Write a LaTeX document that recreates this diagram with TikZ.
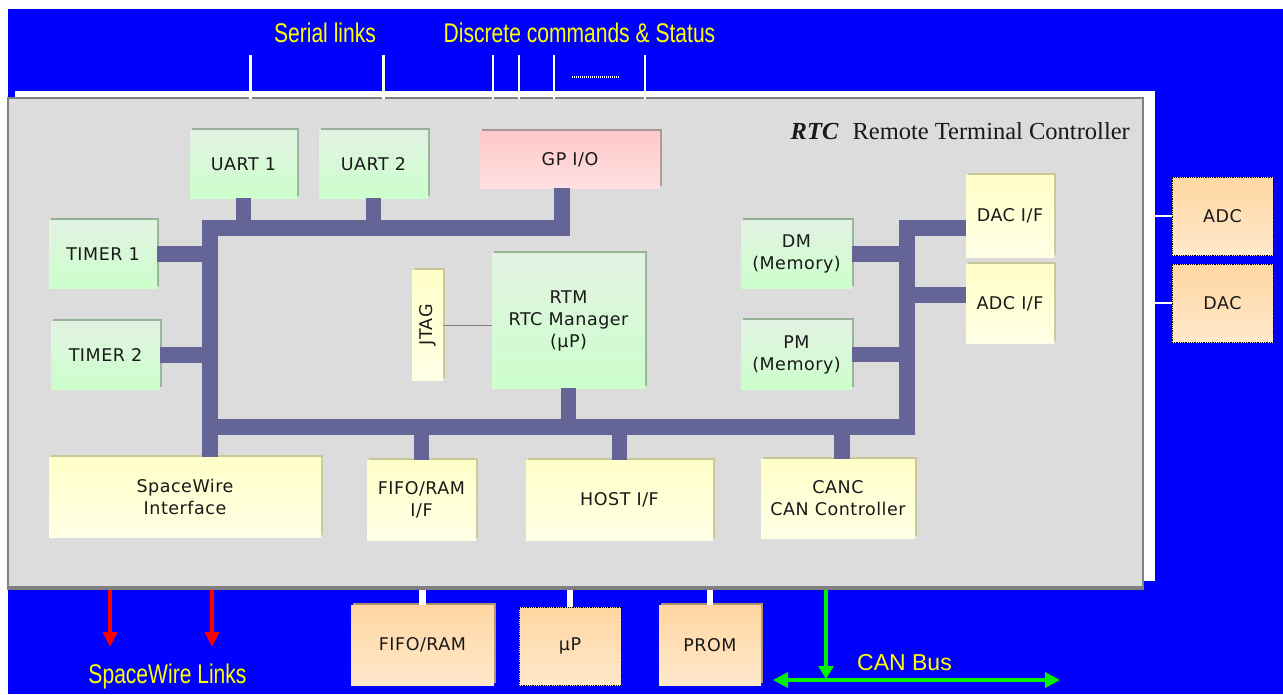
\documentclass[tikz,border=0pt]{standalone}
\usepackage{fontspec}
\setmainfont{Liberation Serif}
\newfontfamily\boxfont[LetterSpace=3]{DejaVu Sans}
\newfontfamily\capfont[FakeStretch=0.78]{Liberation Sans}
\newfontfamily\plainsans{Liberation Sans}
\usetikzlibrary{shadows,arrows.meta}

\definecolor{sky}{RGB}{0,0,255}
\definecolor{panel}{RGB}{220,220,220}
\definecolor{panelrim}{RGB}{128,128,128}
\definecolor{busc}{RGB}{100,100,150}
\definecolor{gtop}{RGB}{226,242,226}
\definecolor{gbot}{RGB}{204,255,204}
\definecolor{ytop}{RGB}{255,255,200}
\definecolor{ybot}{RGB}{255,255,230}
\definecolor{ptop}{RGB}{255,200,200}
\definecolor{pbot}{RGB}{255,224,224}
\definecolor{otop}{RGB}{255,214,160}
\definecolor{obot}{RGB}{255,232,204}
\definecolor{gshade}{RGB}{150,178,150}
\definecolor{yshade}{RGB}{200,200,150}
\definecolor{pshade}{RGB}{170,150,150}
\definecolor{oshade}{RGB}{175,145,110}
\definecolor{ink}{RGB}{25,25,25}
\definecolor{legend}{RGB}{255,255,0}
\definecolor{canline}{RGB}{0,240,0}

\tikzset{
  unit/.style={rectangle, inner sep=0pt, align=center, text=ink,
    font={\boxfont\fontsize{17.5}{22}\selectfont}},
  greenbox/.style={unit, top color=gtop, bottom color=gbot,
    general shadow={fill=gshade, shadow xshift=2pt, shadow yshift=2pt}},
  yellowbox/.style={unit, top color=ytop, bottom color=ybot,
    general shadow={fill=yshade, shadow xshift=2pt, shadow yshift=2pt}},
  pinkbox/.style={unit, top color=ptop, bottom color=pbot,
    general shadow={fill=pshade, shadow xshift=2pt, shadow yshift=2pt}},
  orangebox/.style={unit, top color=otop, bottom color=obot,
    general shadow={fill=oshade, shadow xshift=2pt, shadow yshift=2pt}},
  extbox/.style={unit, top color=otop, bottom color=obot,
    draw=black, densely dotted, line width=0.8pt},
  bus/.style={draw=busc, line width=15.5pt},
  wirelink/.style={draw=white, line width=3pt},
  thinlink/.style={draw=white, line width=1.4pt},
  padlink/.style={draw=white, line width=6.5pt},
  swarrow/.style={draw=red, line width=4pt, -{Triangle[width=14pt,length=15pt]}},
  canarrow/.style={draw=canline, line width=4.5pt},
  legendtext/.style={text=legend, inner sep=0pt, anchor=base,
    font={\capfont\fontsize{27}{30}\selectfont}},
}

\begin{document}
\begin{tikzpicture}[x=1pt,y=-1pt]
\useasboundingbox (0,0) rectangle (1283,694);
% backdrop
\fill[white] (0,0) rectangle (1283,694);
\fill[sky] (8,9) rectangle (1283,694);

% controller panel with its white offset edge
\fill[white] (15,91) rectangle (1155,581);
\node[rectangle, fill=panel, draw=panelrim, line width=2pt,
      minimum width=1135pt, minimum height=489pt] (rtc) at (575.5,342.5) {};
\draw[panelrim, line width=3pt] (rtc.south west) -- (rtc.south east);
\node[anchor=base east, inner sep=0pt, text=ink,
      font=\fontsize{24.5}{28}\selectfont] (rtctitle) at (1130,139)
      {\textbf{\textit{RTC}}\hspace{14pt}Remote Terminal Controller};

% external signal legends
\node[legendtext] (serlab) at (325,42) {Serial links};
\node[legendtext] (disclab) at (579.5,42) {Discrete commands \& Status};
\node[legendtext] (swlab) at (167.5,683) {SpaceWire Links};
\node[text=legend, inner sep=0pt, anchor=base,
      font={\plainsans\fontsize{23}{26}\selectfont}] (canlab) at (904.5,670) {CAN Bus};

% serial and discrete lines into the panel
\coordinate (s1) at (250,55);
\coordinate (s2) at (383,55);
\coordinate (d1) at (493,55);
\coordinate (d2) at (519,55);
\coordinate (d3) at (554,55);
\coordinate (d4) at (645,55);
\coordinate (dotA) at (572,77);
\coordinate (dotB) at (619,77);
\foreach \p in {s1,s2}
  \draw[wirelink] (\p) -- ([yshift=-2pt]\p |- rtc.north);
\foreach \p in {d1,d2,d3,d4}
  \draw[thinlink] (\p) -- ([yshift=-2pt]\p |- rtc.north);
\draw[white, line width=1.2pt, dash pattern=on 1.2pt off 0.8pt] (dotA) -- (dotB);

% internal blocks
\node[greenbox, minimum width=107pt, minimum height=68pt] (uart1) at (243.5,164) {UART 1};
\node[greenbox, minimum width=109pt, minimum height=68pt] (uart2) at (373.5,164) {UART 2};
\node[pinkbox, minimum width=180pt, minimum height=57pt] (gpio) at (570,159.5) {GP I/O};
\node[greenbox, minimum width=108pt, minimum height=68pt] (timer1) at (103,254) {TIMER 1};
\node[greenbox, minimum width=109pt, minimum height=68pt] (timer2) at (105.5,355) {TIMER 2};
\node[yellowbox, minimum width=31pt, minimum height=110pt] (jtag) at (427.5,325) {\rotatebox{90}{JTAG}};
\node[greenbox, minimum width=153pt, minimum height=135pt] (rtm) at (568.5,320.5)
  {RTM\\RTC Manager\\(µP)};
\node[greenbox, minimum width=111pt, minimum height=68pt] (dm) at (796.5,254) {DM\\(Memory)};
\node[greenbox, minimum width=111pt, minimum height=69pt] (pm) at (796.5,354.5) {PM\\(Memory)};
\node[yellowbox, minimum width=88pt, minimum height=82pt] (dacif) at (1010,216) {DAC I/F};
\node[yellowbox, minimum width=88pt, minimum height=79pt] (adcif) at (1010,303.5) {ADC I/F};
\node[yellowbox, minimum width=272pt, minimum height=80pt] (spw) at (185,497) {SpaceWire\\Interface};
\node[yellowbox, minimum width=109pt, minimum height=80pt] (fifoif) at (421.5,500) {FIFO/RAM\\I/F};
\node[yellowbox, minimum width=187pt, minimum height=80pt] (host) at (619.5,500) {HOST I/F};
\node[yellowbox, minimum width=154pt, minimum height=79pt] (canc) at (838,498.5) {CANC\\CAN Controller};

% external devices
\node[extbox, minimum width=101pt, minimum height=78pt] (adc) at (1222.5,216) {ADC};
\node[extbox, minimum width=101pt, minimum height=78pt] (dac) at (1222.5,303) {DAC};
\node[orangebox, minimum width=143pt, minimum height=80pt] (fifo) at (422.5,645) {FIFO/RAM};
\node[extbox, minimum width=102pt, minimum height=78pt] (up) at (570,646) {µP};
\node[orangebox, minimum width=102pt, minimum height=80pt] (prom) at (710,645) {PROM};

% JTAG access to the manager
\draw[gray, line width=1pt] (jtag.east) -- (rtm.west |- jtag.east);

% internal bus
\coordinate (tl) at (210,228);
\coordinate (tr) at (562,228);
\coordinate (bl) at (210,427);
\coordinate (br) at (907,427);
\coordinate (rt) at (907,228);
\coordinate (ra) at (907,295);
\draw[bus] (tr |- gpio.south) -- (tr) -- (tl) -- (tl |- spw.north);
\draw[bus] (bl) -- (br) -- (rt) -- (rt -| dacif.west);
\draw[bus] (ra) -- (ra -| adcif.west);
\draw[bus] (uart1.south) -- (uart1.south |- tl);
\draw[bus] (uart2.south) -- (uart2.south |- tl);
\draw[bus] (timer1.east) -- (timer1.east -| tl);
\draw[bus] (timer2.east) -- (timer2.east -| tl);
\draw[bus] (dm.east) -- (dm.east -| rt);
\draw[bus] (pm.east) -- (pm.east -| rt);
\draw[bus] (rtm.south) -- (rtm.south |- bl);
\draw[bus] (fifoif.north) -- (fifoif.north |- bl);
\draw[bus] (host.north) -- (host.north |- bl);
\coordinate (cs) at (842,427);
\draw[bus] (cs) -- (cs |- canc.north);

% links leaving the panel
\draw[padlink] (fifo.north) -- ([yshift=-1.5pt]fifo.north |- rtc.south);
\draw[padlink] (up.north) -- ([yshift=-1.5pt]up.north |- rtc.south);
\draw[padlink] (prom.north) -- ([yshift=-1.5pt]prom.north |- rtc.south);
\draw[white, line width=1.4pt] (adc.west) -- (adc.west -| rtc.east);
\draw[white, line width=1.4pt] (dac.west) -- (dac.west -| rtc.east);

% SpaceWire outputs
\coordinate (sw1) at (110,647);
\coordinate (sw2) at (212,647);
\draw[swarrow] ([yshift=-1.5pt]sw1 |- rtc.south) -- (sw1);
\draw[swarrow] ([yshift=-1.5pt]sw2 |- rtc.south) -- (sw2);

% CAN bus
\coordinate (canL) at (773,680);
\coordinate (canR) at (1060,680);
\coordinate (canT) at (826,679);
\draw[canarrow, -{Triangle[width=15pt,length=13pt]}] ([yshift=-1.5pt]canT |- rtc.south) -- (canT);
\draw[canarrow, {Triangle[width=15pt,length=15pt]}-{Triangle[width=15pt,length=15pt]}] (canL) -- (canR);
\end{tikzpicture}
\end{document}
